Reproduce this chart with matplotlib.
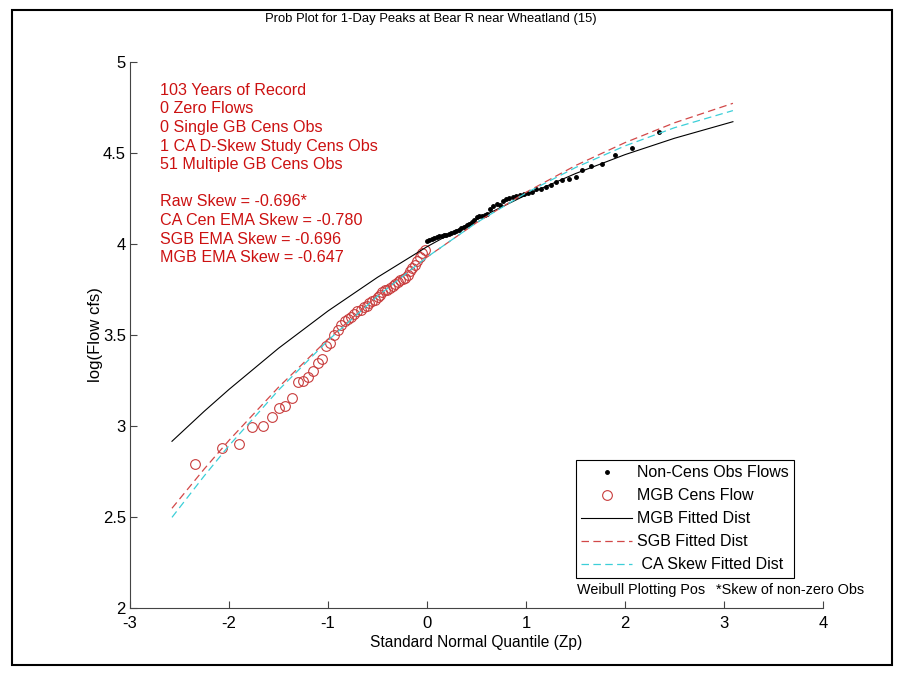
import matplotlib
matplotlib.use("Agg")
import matplotlib.pyplot as plt
from matplotlib.patches import Rectangle
from matplotlib import font_manager

plt.rcParams['font.family'] = ['Liberation Sans', 'DejaVu Sans']
plt.rcParams['axes.unicode_minus'] = False

# censored obs (MGB low outliers), Weibull plotting positions
z_cens = [-2.34, -2.07, -1.90, -1.77, -1.66, -1.57, -1.50, -1.43, -1.36, -1.30,
          -1.25, -1.20, -1.15, -1.10, -1.06, -1.02, -0.98, -0.94, -0.90, -0.87,
          -0.83, -0.80, -0.77, -0.74, -0.71, -0.67, -0.64, -0.61, -0.59, -0.56,
          -0.53, -0.50, -0.47, -0.45, -0.42, -0.40, -0.37, -0.34, -0.32, -0.29,
          -0.27, -0.24, -0.22, -0.19, -0.17, -0.15, -0.12, -0.10, -0.07, -0.05,
          -0.02]
y_cens = [2.79, 2.877, 2.90, 2.995, 3.00, 3.05, 3.10, 3.11, 3.155, 3.24,
          3.25, 3.27, 3.30, 3.345, 3.37, 3.44, 3.455, 3.50, 3.53, 3.555,
          3.575, 3.59, 3.60, 3.615, 3.63, 3.64, 3.655, 3.66, 3.675, 3.685,
          3.695, 3.71, 3.72, 3.735, 3.745, 3.75, 3.76, 3.77, 3.78, 3.79,
          3.80, 3.81, 3.815, 3.83, 3.85, 3.87, 3.885, 3.905, 3.93, 3.95,
          3.965]

# non-censored obs
z_obs = [0.00, 0.02, 0.05, 0.07, 0.10, 0.12, 0.15, 0.17, 0.19, 0.22,
         0.24, 0.27, 0.29, 0.32, 0.34, 0.37, 0.40, 0.42, 0.45, 0.47,
         0.50, 0.53, 0.56, 0.59, 0.61, 0.64, 0.67, 0.71, 0.74, 0.77,
         0.80, 0.83, 0.87, 0.90, 0.94, 0.98, 1.02, 1.06, 1.10, 1.15,
         1.20, 1.25, 1.30, 1.36, 1.43, 1.50, 1.57, 1.66, 1.77, 1.90,
         2.07, 2.34]
y_obs = [4.015, 4.02, 4.025, 4.035, 4.04, 4.045, 4.045, 4.05, 4.052, 4.056,
         4.06, 4.065, 4.072, 4.078, 4.086, 4.093, 4.102, 4.11, 4.122, 4.13,
         4.148, 4.153, 4.156, 4.16, 4.165, 4.19, 4.21, 4.22, 4.215, 4.238,
         4.25, 4.255, 4.256, 4.262, 4.27, 4.276, 4.282, 4.286, 4.30, 4.304,
         4.312, 4.322, 4.338, 4.352, 4.356, 4.367, 4.406, 4.426, 4.438, 4.488,
         4.53, 4.615]

# fitted distributions
z_fit = [-2.576, -2.25, -2.0, -1.5, -1.0, -0.5, 0.0, 0.5, 1.0, 1.5, 2.0, 2.5, 3.09]
mgb_fit = [2.916, 3.081, 3.201, 3.427, 3.632, 3.817, 3.985, 4.135, 4.269, 4.387, 4.491, 4.581, 4.672]
sgb_fit = [2.548, 2.764, 2.921, 3.213, 3.477, 3.715, 3.928, 4.117, 4.284, 4.431, 4.557, 4.666, 4.773]
ca_fit = [2.498, 2.726, 2.892, 3.197, 3.470, 3.713, 3.928, 4.117, 4.280, 4.420, 4.539, 4.639, 4.733]

info_lines = ['103 Years of Record', '0 Zero Flows', '0 Single GB Cens Obs',
              '1 CA D-Skew Study Cens Obs', '51 Multiple GB Cens Obs', '',
              'Raw Skew = -0.696*', 'CA Cen EMA Skew = -0.780',
              'SGB EMA Skew = -0.696', 'MGB EMA Skew = -0.647']

# narrow font for the footnotes if there is one
names = set(f.name for f in font_manager.fontManager.ttflist)
if 'Liberation Sans Narrow' in names:
    note_font, note_size = 'Liberation Sans Narrow', 11.5
else:
    note_font, note_size = 'Liberation Sans', 10.4

fig = plt.figure(figsize=(9, 6.79), dpi=100)
ax = fig.add_axes([130/900, 71/679, 693/900, 546/679])

ax.plot(z_obs, y_obs, '.', color='black', markersize=5, label='Non-Cens Obs Flows')
ax.plot(z_cens, y_cens, 'o', mfc='none', mec='#c83c3c', markersize=7,
        markeredgewidth=0.8, label='MGB Cens Flow')
ax.plot(z_fit, mgb_fit, '-', color='black', lw=0.8, label='MGB Fitted Dist')
ax.plot(z_fit, sgb_fit, '--', color='#d24848', lw=0.9, dashes=(6, 3.5), label='SGB Fitted Dist')
ax.plot(z_fit, ca_fit, '--', color='#3ccfd8', lw=0.9, dashes=(6, 3.5), label=' CA Skew Fitted Dist')

ax.set_xlim(-3, 4)
ax.set_ylim(2, 5)
ax.set_xticks(range(-3, 5))
ax.set_yticks([2, 2.5, 3, 3.5, 4, 4.5, 5])
ax.set_yticklabels(['2', '2.5', '3', '3.5', '4', '4.5', '5'])
ax.spines['top'].set_visible(False)
ax.spines['right'].set_visible(False)
for s in ['left', 'bottom']:
    ax.spines[s].set_color('#444444')
    ax.spines[s].set_linewidth(0.8)
ax.tick_params(direction='in', length=5, width=0.8, color='#444444',
               labelsize=12, pad=3)
ax.tick_params(axis='x', pad=6)

fig.text(431/900, 1 - 19/679, 'Prob Plot for 1-Day Peaks at Bear R near Wheatland (15)',
         fontsize=9.4, ha='center', va='center')
ax.set_xlabel('Standard Normal Quantile (Zp)', fontsize=11.2, labelpad=3)
ax.set_ylabel('log(Flow cfs)', fontsize=12, labelpad=0)

ax.text(0.043, 0.962, '\n'.join(info_lines), transform=ax.transAxes, color='#cc1111',
        fontsize=11.6, va='top', ha='left', linespacing=1.3)

leg = ax.legend(loc='lower left', bbox_to_anchor=(0.643, 0.055), numpoints=1,
                fontsize=11.5, fancybox=False, framealpha=1, edgecolor='black',
                handlelength=3.2, handletextpad=0.3, borderpad=0.35,
                labelspacing=0.5, borderaxespad=0)
leg.get_frame().set_linewidth(0.8)

ax.text(0.645, 0.033, 'Weibull Plotting Pos', transform=ax.transAxes,
        fontsize=note_size, family=note_font, ha='left', va='center')
ax.text(0.845, 0.033, '*Skew of non-zero Obs', transform=ax.transAxes,
        fontsize=note_size, family=note_font, ha='left', va='center')

fig.patches.append(Rectangle((12/900, 14/679), 880/900, 655/679, transform=fig.transFigure,
                             fill=False, edgecolor='black', linewidth=1.5))

fig.savefig('out.png', dpi=100)
